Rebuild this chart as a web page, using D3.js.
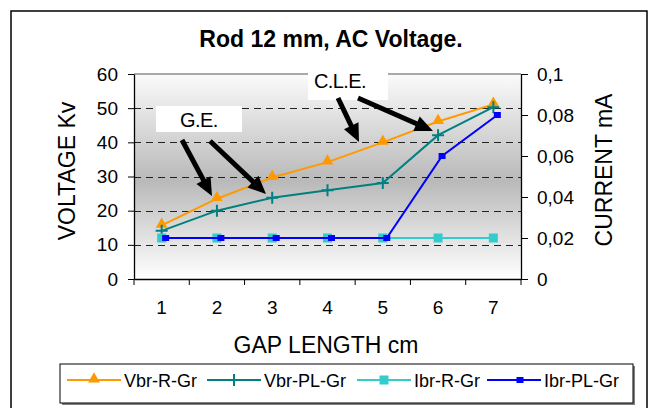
<!DOCTYPE html>
<html>
<head>
<meta charset="utf-8">
<script src="https://cdn.jsdelivr.net/npm/d3@7"></script>
<style>
  html, body { margin: 0; padding: 0; background: #ffffff; }
  svg { display: block; font-family: "Liberation Sans", Arial, sans-serif; }
</style>
</head>
<body>
<svg id="chart" width="649" height="408"></svg>
<script>
// Gap length categories (cm)
const categories = ["1", "2", "3", "4", "5", "6", "7"];

// Breakdown voltage (kV), left axis
const vbrRGr  = [15.7, 23.5, 29.7, 34.2, 40.0, 46.1, 51.1];
const vbrPLGr = [14.1, 20.0, 23.8, 26.0, 28.1, 42.1, 50.3];

// Breakdown current (mA), right axis
const ibrRGr  = [0.02, 0.02, 0.02, 0.02, 0.02, 0.02, 0.02];
const ibrPLGr = [0.02, 0.02, 0.02, 0.02, 0.02, 0.06, 0.08];

const voltageTicks = [0, 10, 20, 30, 40, 50, 60];
const currentTicks = [0, 0.02, 0.04, 0.06, 0.08, 0.1];

const seriesNames = ["Vbr-R-Gr", "Vbr-PL-Gr", "Ibr-R-Gr", "Ibr-PL-Gr"];

const svg = d3.select("#chart");
const plot = { left: 134, right: 521, top: 74, bottom: 279 };

// Outer chart frame
svg.append("rect")
  .attr("x", 11).attr("y", 11).attr("width", 636).attr("height", 420)
  .attr("fill", "#fff").attr("stroke", "#000").attr("stroke-width", 1.5);

// Scales
const x = d3.scaleBand().domain(categories).range([plot.left, plot.right]);
const xc = d => x(d) + x.bandwidth() / 2;
// current series drawn on the secondary category axis, slightly offset
const x2 = d3.scaleBand().domain(categories).range([plot.left + 4, plot.right + 4]);
const xc2 = d => x2(d) + x2.bandwidth() / 2;
const yL = d3.scaleLinear().domain([0, 60]).range([plot.bottom, plot.top]);
const yR = d3.scaleLinear().domain([0, 0.1]).range([plot.bottom, plot.top]);

// Plot-area gradient background
const defs = svg.append("defs");
const grad = defs.append("linearGradient").attr("id", "bg")
  .attr("x1", 0).attr("y1", 0).attr("x2", 0).attr("y2", 1);
grad.append("stop").attr("offset", "0%").attr("stop-color", "#fbfbfb");
grad.append("stop").attr("offset", "52%").attr("stop-color", "#b9b9b9");
grad.append("stop").attr("offset", "100%").attr("stop-color", "#ffffff");

svg.append("rect")
  .attr("x", plot.left).attr("y", plot.top)
  .attr("width", plot.right - plot.left).attr("height", plot.bottom - plot.top)
  .attr("fill", "url(#bg)");
svg.append("line")
  .attr("x1", plot.left).attr("x2", plot.right)
  .attr("y1", plot.top).attr("y2", plot.top)
  .attr("stroke", "#8c8c8c").attr("stroke-width", 1.5);

// Dashed gridlines
svg.append("g").selectAll("line")
  .data(voltageTicks.filter(v => v > 0 && v < 60))
  .join("line")
  .attr("x1", plot.left).attr("x2", plot.right)
  .attr("y1", d => Math.round(yL(d)) + 0.5).attr("y2", d => Math.round(yL(d)) + 0.5)
  .attr("stroke", "#222").attr("stroke-width", 1)
  .attr("stroke-dasharray", "7,5");

// Left axis
const axL = svg.append("g").attr("transform", `translate(${plot.left},0)`)
  .call(d3.axisLeft(yL).tickValues(voltageTicks).tickSize(6).tickSizeOuter(0).tickPadding(10));
// Right axis
const axR = svg.append("g").attr("transform", `translate(${plot.right},0)`)
  .call(d3.axisRight(yR).tickValues(currentTicks).tickSize(7).tickSizeOuter(0).tickPadding(9)
    .tickFormat(d => d === 0 ? "0" : d3.format(".2~f")(d).replace(".", ",")));
// Bottom axis: labels at category centres
const axB = svg.append("g").attr("transform", `translate(0,${plot.bottom})`)
  .call(d3.axisBottom(x).tickSize(0).tickSizeOuter(0).tickPadding(22));
// Category boundary tick marks
const bounds = categories.map(c => x(c)).concat([x.range()[1]]);
axB.append("g").selectAll("line").data(bounds).join("line")
  .attr("x1", d => d).attr("x2", d => d).attr("y1", 0).attr("y2", 6)
  .attr("stroke", "#000");

[axL, axR, axB].forEach(g => {
  g.select(".domain").attr("stroke", "#000").attr("stroke-width", 1.3);
  g.selectAll(".tick line").attr("stroke", "#000");
  g.selectAll("text").attr("font-family", "Liberation Sans, Arial, sans-serif")
    .attr("font-size", 19).attr("fill", "#000");
});

// Series
const line = (xs, ys) => d3.line().x((d, i) => xs(categories[i])).y(d => ys(d));

function drawLine(vals, xs, ys, color, width) {
  svg.append("path").datum(vals)
    .attr("d", line(xs, ys))
    .attr("fill", "none").attr("stroke", color).attr("stroke-width", width);
}

const tri = d3.symbol().type(d3.symbolTriangle).size(60);

// Vbr-R-Gr
drawLine(vbrRGr, xc, yL, "#ff9900", 2);
svg.append("g").selectAll("path").data(vbrRGr).join("path")
  .attr("d", tri)
  .attr("transform", (d, i) => `translate(${xc(categories[i])},${yL(d) - 1})`)
  .attr("fill", "#ff9900");

// Vbr-PL-Gr
drawLine(vbrPLGr, xc, yL, "#008080", 2);
svg.append("g").selectAll("path").data(vbrPLGr).join("path")
  .attr("d", "M-6,0H6M0,-6V6")
  .attr("transform", (d, i) => `translate(${xc(categories[i])},${yL(d)})`)
  .attr("stroke", "#008080").attr("stroke-width", 2).attr("fill", "none");

// Ibr-R-Gr
drawLine(ibrRGr, xc, yR, "#33cccc", 2);
svg.append("g").selectAll("rect").data(ibrRGr).join("rect")
  .attr("x", (d, i) => xc(categories[i]) - 4.5).attr("y", d => yR(d) - 4.5)
  .attr("width", 9).attr("height", 9).attr("fill", "#33cccc");

// Ibr-PL-Gr
drawLine(ibrPLGr, xc2, yR, "#0000ff", 2);
svg.append("g").selectAll("rect").data(ibrPLGr).join("rect")
  .attr("x", (d, i) => xc2(categories[i]) - 3.5).attr("y", d => yR(d) - 3)
  .attr("width", 7).attr("height", 6).attr("fill", "#0000ff");

// Annotation labels with pointer arrows
function label(x0, y0, w, h, text, tx, ty) {
  svg.append("rect").attr("x", x0).attr("y", y0).attr("width", w).attr("height", h).attr("fill", "#fff");
  svg.append("text").attr("x", tx).attr("y", ty).attr("font-size", 20)
    .attr("letter-spacing", -0.6).attr("fill", "#000").text(text);
}
function arrow(x1, y1, x2, y2) {
  const dx = x2 - x1, dy = y2 - y1, len = Math.hypot(dx, dy);
  const ux = dx / len, uy = dy / len, px = -uy, py = ux;
  const hl = 18, hw = 8;
  const bx = x2 - ux * hl, by = y2 - uy * hl;
  svg.append("line").attr("x1", x1).attr("y1", y1).attr("x2", bx + ux * 2).attr("y2", by + uy * 2)
    .attr("stroke", "#000").attr("stroke-width", 5);
  svg.append("path")
    .attr("d", `M${x2},${y2}L${bx + px * hw},${by + py * hw}L${bx - px * hw},${by - py * hw}Z`)
    .attr("fill", "#000");
}

label(156, 106, 86, 26, "G.E.", 180, 127);
arrow(182, 140, 212, 196);
arrow(210, 141, 266, 194);

label(308, 68, 80, 32, "C.L.E.", 314, 88);
arrow(338, 98, 359, 142);
arrow(358, 98, 433, 131);

// Titles
svg.append("text").attr("x", 331).attr("y", 47).attr("text-anchor", "middle")
  .attr("font-size", 23).attr("font-weight", "bold").text("Rod 12 mm, AC Voltage.");
svg.append("text").attr("transform", "translate(75,171) rotate(-90)")
  .attr("text-anchor", "middle").attr("font-size", 23).text("VOLTAGE Kv");
svg.append("text").attr("transform", "translate(612,170) rotate(-90)")
  .attr("text-anchor", "middle").attr("font-size", 23).text("CURRENT mA");
svg.append("text").attr("x", 326).attr("y", 353).attr("text-anchor", "middle")
  .attr("font-size", 23).text("GAP LENGTH cm");

// Legend
const lg = svg.append("g");
lg.append("rect").attr("x", 62).attr("y", 366).attr("width", 573).attr("height", 39).attr("fill", "#808080");
lg.append("rect").attr("x", 60).attr("y", 364).attr("width", 573).attr("height", 39)
  .attr("fill", "#fff").attr("stroke", "#000").attr("stroke-width", 1);
const legendItems = [
  { name: seriesNames[0], color: "#ff9900", x0: 67, mark: "tri" },
  { name: seriesNames[1], color: "#008080", x0: 207, mark: "plus" },
  { name: seriesNames[2], color: "#33cccc", x0: 357, mark: "sq" },
  { name: seriesNames[3], color: "#0000ff", x0: 487, mark: "sqs" }
];
const ly = 380;
legendItems.forEach(it => {
  lg.append("line").attr("x1", it.x0).attr("x2", it.x0 + 54).attr("y1", ly).attr("y2", ly)
    .attr("stroke", it.color).attr("stroke-width", 2);
  const mx = it.x0 + 27;
  if (it.mark === "tri") {
    lg.append("path").attr("d", tri).attr("transform", `translate(${mx},${ly - 1})`).attr("fill", it.color);
  } else if (it.mark === "plus") {
    lg.append("path").attr("d", "M-6,0H6M0,-6V6").attr("transform", `translate(${mx},${ly})`)
      .attr("stroke", it.color).attr("stroke-width", 2);
  } else if (it.mark === "sq") {
    lg.append("rect").attr("x", mx - 4.5).attr("y", ly - 4.5).attr("width", 9).attr("height", 9).attr("fill", it.color);
  } else {
    lg.append("rect").attr("x", mx + 2.5).attr("y", ly - 3).attr("width", 7).attr("height", 6).attr("fill", it.color);
  }
  lg.append("text").attr("x", it.x0 + 57).attr("y", ly + 6.5).attr("font-size", 18).text(it.name);
});
</script>
</body>
</html>
